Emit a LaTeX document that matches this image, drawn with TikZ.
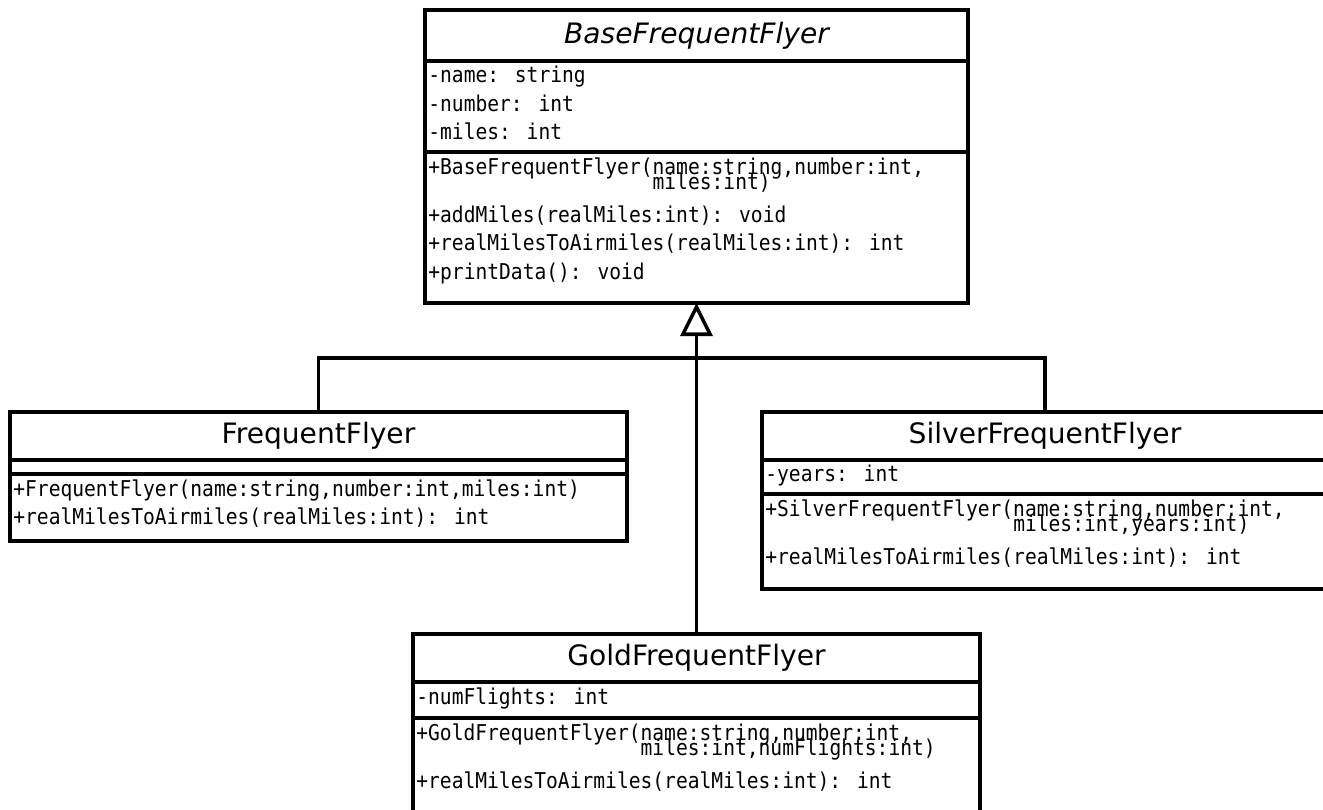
\documentclass[tikz,border=0pt]{standalone}
\usepackage{fontspec}
\setmainfont{DejaVu Sans}
\newfontfamily\monofont[FakeStretch=0.9]{DejaVu Sans Mono}
\usetikzlibrary{arrows.meta}

\newcommand{\titlefont}{\fontsize{16pt}{19pt}\selectfont}
\newcommand{\memberfont}{\monofont\fontsize{12.4pt}{16.2pt}\selectfont}

\tikzset{
  umlbox/.style 2 args={draw, line width=2pt, rectangle, inner sep=0pt, outer sep=0pt,
    anchor=north west, minimum width=#1*0.02cm, minimum height=#2*0.02cm},
  members/.style={font=\memberfont, align=left, anchor=north west, inner sep=0pt},
  link/.style={line width=2pt},
}

\begin{document}
\begin{tikzpicture}[x=0.02cm, y=-0.02cm]
  \useasboundingbox (0,0) rectangle (1323,809);
  \clip (0,0) rectangle (1323,809);
  % abstract base class
  \node[umlbox={543}{51}, font=\titlefont\itshape] (base) at (425,10) {BaseFrequentFlyer};
  \node[umlbox={543}{91}] (base-attr) at (base.south west) {};
  \node[umlbox={543}{151}] (base-ops) at (base-attr.south west) {};
  \node[members] (base-attr-txt) at ([shift={(3,5)}]base-attr.north west)
    {-name: string\\-number: int\\-miles: int};
  \node[members] (base-ops-txt) at ([shift={(3,5)}]base-ops.north west)
    {+BaseFrequentFlyer(name:string,number:int,\\[-7.4pt]
     \phantom{+BaseFrequentFlyer(}miles:int)\\[2.6pt]
     +addMiles(realMiles:int): void\\
     +realMilesToAirmiles(realMiles:int): int\\
     +printData(): void};
  % plain flyer
  \node[umlbox={617}{48}, font=\titlefont] (ff) at (10,412) {FrequentFlyer};
  \node[umlbox={617}{14}] (ff-attr) at (ff.south west) {};
  \node[umlbox={617}{67}] (ff-ops) at (ff-attr.south west) {};
  \node[members] (ff-ops-txt) at ([shift={(3,5)}]ff-ops.north west)
    {+FrequentFlyer(name:string,number:int,miles:int)\\
     +realMilesToAirmiles(realMiles:int): int};
  % silver flyer (runs off the right edge)
  \node[umlbox={566}{48}, font=\titlefont] (silver) at (762,412) {SilverFrequentFlyer};
  \node[umlbox={566}{34}] (silver-attr) at (silver.south west) {};
  \node[umlbox={566}{95}] (silver-ops) at (silver-attr.south west) {};
  \node[members] (silver-attr-txt) at ([shift={(3,5)}]silver-attr.north west) {-years: int};
  \node[members] (silver-ops-txt) at ([shift={(3,5)}]silver-ops.north west)
    {+SilverFrequentFlyer(name:string,number:int,\\[-7.4pt]
     \phantom{+SilverFrequentFlyer(}miles:int,years:int)\\[2.6pt]
     +realMilesToAirmiles(realMiles:int): int};
  % gold flyer (runs off the bottom edge)
  \node[umlbox={567}{48}, font=\titlefont] (gold) at (413,634) {GoldFrequentFlyer};
  \node[umlbox={567}{36}] (gold-attr) at (gold.south west) {};
  \node[umlbox={567}{100}] (gold-ops) at (gold-attr.south west) {};
  \node[members] (gold-attr-txt) at ([shift={(3,5)}]gold-attr.north west) {-numFlights: int};
  \node[members] (gold-ops-txt) at ([shift={(3,5)}]gold-ops.north west)
    {+GoldFrequentFlyer(name:string,number:int,\\[-7.4pt]
     \phantom{+GoldFrequentFlyer(}miles:int,numFlights:int)\\[2.6pt]
     +realMilesToAirmiles(realMiles:int): int};
  % generalisation
  \coordinate (bar) at (696.5,358);
  \draw[link] (ff.north) |- (bar) -| (silver.north);
  \draw[link, -{Triangle[open, length=0.66cm, width=0.64cm]}] (gold.north) -- (base-ops.south);
\end{tikzpicture}
\end{document}
